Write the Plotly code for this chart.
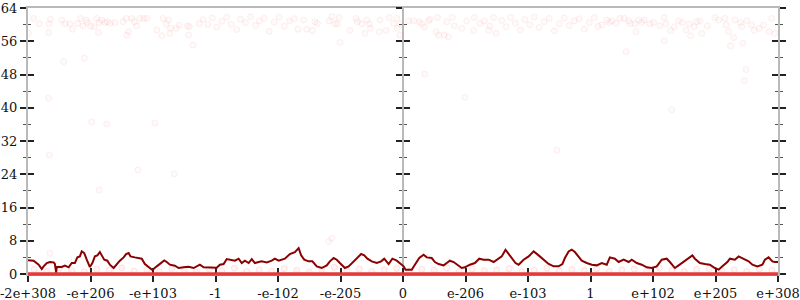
import plotly.graph_objects as go

# x axis: position along the ordered float range, one unit per labelled tick
tick_pos = [-6, -5, -4, -3, -2, -1, 0, 1, 2, 3, 4, 5, 6]
tick_text = ["-2e+308", "-e+206", "-e+103", "-1", "-e-102", "-e-205", "0",
             "e-206", "e-103", "1", "e+102", "e+205", "e+308"]
y_ticks = [0, 8, 16, 24, 32, 40, 48, 56, 64]

# moving-average line
avg_x = [-6.0, -5.91, -5.83, -5.78, -5.75, -5.70, -5.65, -5.59, -5.57, -5.55, -5.54, -5.46,
         -5.41, -5.35, -5.30, -5.25, -5.21, -5.17, -5.14, -5.10, -5.06, -5.01, -4.97, -4.93,
         -4.89, -4.85, -4.82, -4.78, -4.73, -4.69, -4.63, -4.58, -4.53, -4.47, -4.43, -4.39,
         -4.36, -4.29, -4.18, -4.13, -4.07, -4.01, -3.94, -3.89, -3.82, -3.78, -3.73, -3.65,
         -3.59, -3.51, -3.43, -3.35, -3.25, -3.19, -3.09, -2.98, -2.93, -2.87, -2.82, -2.77,
         -2.69, -2.63, -2.58, -2.53, -2.47, -2.42, -2.37, -2.31, -2.26, -2.18, -2.10, -2.05,
         -1.99, -1.89, -1.81, -1.73, -1.67, -1.63, -1.58, -1.51, -1.45, -1.38, -1.30, -1.22,
         -1.17, -1.11, -1.06, -1.01, -0.93, -0.87, -0.79, -0.74, -0.67, -0.62, -0.57, -0.50,
         -0.42, -0.35, -0.30, -0.23, -0.17, -0.10, -0.05, 0.01, 0.04, 0.14, 0.19, 0.26,
         0.33, 0.38, 0.46, 0.51, 0.57, 0.65, 0.70, 0.75, 0.81, 0.87, 0.94, 0.99,
         1.07, 1.15, 1.22, 1.29, 1.37, 1.45, 1.53, 1.58, 1.64, 1.69, 1.75, 1.80,
         1.85, 1.93, 2.01, 2.09, 2.17, 2.25, 2.33, 2.41, 2.49, 2.55, 2.59, 2.65,
         2.70, 2.75, 2.81, 2.86, 2.94, 3.02, 3.10, 3.18, 3.26, 3.31, 3.39, 3.45,
         3.53, 3.61, 3.66, 3.74, 3.82, 3.90, 3.98, 4.06, 4.14, 4.22, 4.27, 4.35,
         4.41, 4.49, 4.57, 4.63, 4.67, 4.75, 4.83, 4.91, 4.99, 5.05, 5.11, 5.19,
         5.23, 5.31, 5.37, 5.45, 5.53, 5.59, 5.67, 5.75, 5.79, 5.85, 5.91, 5.95, 6.0]
avg_y = [3.28, 3.2, 2.24, 1.2, 1.84, 2.64, 2.88, 2.8, 2.4, 0.4, 1.68, 1.68,
         2.0, 1.6, 2.64, 2.64, 4.0, 4.24, 5.44, 5.04, 3.44, 1.68, 2.64, 4.24,
         4.48, 5.28, 4.48, 3.44, 3.2, 2.24, 1.44, 2.4, 3.2, 4.0, 4.8, 5.04,
         4.24, 4.0, 3.68, 2.4, 1.6, 0.96, 1.84, 2.4, 3.28, 2.88, 2.24, 2.0,
         1.44, 1.6, 1.76, 1.44, 2.24, 1.6, 1.6, 1.52, 2.24, 2.4, 3.6, 3.44,
         3.2, 3.68, 2.64, 3.2, 2.64, 3.6, 2.64, 2.88, 3.04, 2.8, 3.2, 3.68,
         3.2, 3.68, 4.8, 5.28, 6.24, 4.48, 3.44, 3.04, 3.04, 1.84, 1.44, 2.08,
         3.04, 3.84, 3.44, 2.64, 1.44, 1.84, 3.04, 4.0, 4.8, 4.48, 3.68, 3.04,
         2.64, 3.04, 3.68, 2.4, 3.68, 3.2, 2.64, 1.84, 1.04, 1.04, 2.24, 3.84,
         4.64, 4.0, 3.84, 2.88, 2.4, 2.08, 2.64, 3.2, 2.88, 2.24, 1.44, 1.6,
         2.24, 2.64, 3.68, 3.44, 3.44, 2.88, 3.68, 4.24, 5.84, 4.8, 3.84, 2.64,
         2.24, 3.44, 4.24, 5.44, 4.48, 3.44, 2.4, 1.84, 1.84, 2.4, 3.84, 5.44,
         5.84, 5.28, 4.24, 3.2, 2.64, 2.24, 2.08, 2.64, 2.24, 4.0, 3.68, 2.88,
         3.44, 2.88, 3.44, 2.64, 2.24, 1.6, 1.44, 1.84, 3.44, 3.68, 2.88, 1.44,
         2.08, 2.88, 3.84, 4.48, 3.68, 2.64, 2.4, 2.24, 1.44, 1.04, 1.84, 2.88,
         3.68, 3.44, 4.24, 3.68, 3.04, 2.24, 1.84, 2.24, 3.44, 4.0, 3.04, 2.88, 2.88]

# individual samples (upper band and scattered)
pt_x = [-5.91, -5.82, -5.66, -5.64, -5.46, -5.41, -5.33, -5.29, -5.21, -5.16, -5.12, -5.07,
        -5.05, -5.0, -4.94, -4.90, -4.87, -4.86, -4.82, -4.77, -4.73, -4.69, -4.61, -4.48,
        -4.43, -4.42, -4.39, -4.34, -4.30, -4.26, -4.21, -4.15, -4.10, -3.94, -3.86, -3.84,
        -3.79, -3.75, -3.73, -3.72, -3.63, -3.58, -3.45, -3.42, -3.43, -3.36, -3.26, -5.43,
        -5.10, -5.67, -5.99, -5.67, -4.98, -4.74, -3.97, -5.66, -4.24, -3.66, -4.86,
        -3.2, -3.12, -3.05, -2.98, -2.9, -2.82, -2.75, -2.66, -2.6, -2.52, -2.44, -2.36,
        -2.3, -2.22, -2.14, -2.06, -1.98, -1.9, -1.82, -1.74, -1.68,
        -1.59, -1.54, -1.45, -1.41, -1.37, -1.18, -1.14, -1.09, -1.05, -1.02, -0.85, -0.75,
        -0.73, -0.66, -0.61, -0.58, -0.54, -0.52, -0.37, -0.38, -0.27, -0.22, -0.15, -0.10,
        -0.09, -0.05, -0.04, 0.09, 0.17, 0.26, 0.30, 0.34, 0.41, 0.43, 0.53, 0.55,
        0.57, 0.66, 0.73, 0.70, 0.79, 0.82, 0.94, 1.02, 1.13, 1.14, 1.23, 1.30,
        1.37, 1.39, 1.45, 1.49, -1.01, 0.35, 0.99,
        1.58, 1.65, 1.72, 1.8, 1.88, 1.95, 2.03, 2.1, 2.18, 2.26, 2.34, 2.42,
        2.5, 2.58, 2.66, 2.74, 2.82, 2.9, 2.98, 3.06, 3.12, 2.46, 4.3,
        3.18, 3.26, 3.30, 3.34, 3.41, 3.47, 3.54, 3.61, 3.64, 3.71, 3.73, 3.77,
        3.82, 3.86, 3.95, 4.01, 4.11, 4.18, 4.21, 4.28, 4.34, 4.41, 4.47, 4.53,
        4.58, 4.60, 4.66, 4.70, 4.75, 4.78, 4.87, 4.99, 5.05, 5.15, 5.17, 5.21,
        5.24, 5.29, 5.31, 5.40, 5.42, 5.44, 5.50, 5.58, 5.62, 5.70, 5.77, 5.86,
        5.90, 5.95, 3.57, 4.18, 5.49, 5.46, -5.65, -1.14, -1.19]
pt_y = [61.5, 60.2, 60.2, 61.3, 61.1, 60.2, 60.2, 58.9, 60.3, 61.5, 59.7, 61.1,
        60.5, 59.7, 59.5, 61.5, 58.1, 60.5, 61.1, 60.5, 60.7, 60.3, 60.5, 60.7,
        61.5, 57.5, 58.3, 61.5, 60.7, 59.7, 61.5, 61.5, 61.5, 58.7, 57.3, 61.5,
        60.2, 61.1, 57.9, 59.1, 59.1, 59.9, 59.7, 59.5, 57.5, 55.1, 60.3, 51.1,
        51.9, 58.1, 57.9, 42.3, 36.6, 36.1, 36.3, 28.6, 25.0, 24.1, 20.2,
        61.2, 60.0, 61.6, 59.4, 60.8, 61.8, 60.1, 58.8, 61.3, 60.5, 61.9, 59.8,
        60.9, 61.5, 58.4, 60.6, 61.8, 59.6, 60.9, 61.4, 58.9,
        61.1, 58.9, 58.6, 60.7, 60.3, 60.9, 61.9, 60.2, 60.2, 61.7, 58.6, 61.5,
        60.7, 60.2, 57.9, 61.1, 60.2, 59.1, 61.1, 58.3, 58.6, 61.7, 60.3, 61.5,
        59.1, 57.5, 60.2, 60.9, 60.9, 60.7, 60.2, 59.4, 60.9, 61.3, 58.3, 61.7,
        57.5, 57.5, 57.1, 60.7, 61.7, 59.7, 59.1, 60.9, 58.6, 61.7, 60.3, 60.9,
        58.6, 59.7, 61.7, 57.9, 55.7, 48.1, 42.5,
        61.0, 59.5, 61.7, 60.4, 58.7, 61.2, 60.0, 61.8, 59.3, 60.7, 61.5, 58.5,
        60.2, 61.6, 59.8, 60.9, 61.4, 58.9, 60.5, 61.7, 59.6, 29.8, 39.5,
        59.9, 61.1, 60.5, 60.9, 60.3, 61.5, 61.5, 60.9, 60.3, 60.2, 58.3, 61.1,
        60.5, 61.1, 60.2, 60.5, 59.7, 61.7, 60.2, 58.6, 59.5, 60.9, 60.5, 58.7,
        60.2, 57.3, 59.5, 60.7, 60.9, 57.9, 59.7, 61.7, 61.1, 61.5, 59.9, 58.3,
        54.9, 56.9, 61.1, 60.5, 59.5, 55.5, 60.9, 59.9, 58.6, 59.1, 59.9, 58.3,
        61.5, 57.9, 53.5, 56.1, 49.2, 46.5, 5.0, 8.6, 7.8]

# samples in the low band just above zero
low_x = [-5.9, -5.7, -5.5, -5.3, -5.1, -4.9, -4.7, -4.5, -4.3, -4.1, -3.9, -3.7,
         -3.5, -3.3, -3.1, -2.9, -2.7, -2.5, -2.3, -2.1, -1.9, -1.7, -1.5, -1.3,
         -1.1, -0.9, -0.7, -0.5, -0.3, -0.1, 0.1, 0.3, 0.5, 0.7, 0.9, 1.1,
         1.3, 1.5, 1.7, 1.9, 2.1, 2.3, 2.5, 2.7, 2.9, 3.1, 3.3, 3.5,
         3.7, 3.9, 4.1, 4.3, 4.5, 4.7, 4.9, 5.1, 5.3, 5.5, 5.7, 5.9]
low_y = [1.1, 0.6, 1.4, 0.8, 0.5, 1.2, 0.9, 1.5, 0.7, 1.0, 0.6, 1.3,
         0.9, 0.5, 1.2, 0.8, 1.4, 0.6, 1.0, 0.7, 1.3, 0.9, 0.5, 1.1,
         1.6, 0.8, 1.2, 0.6, 1.0, 1.4, 0.7, 1.1, 0.9, 1.5, 0.6, 1.2,
         0.8, 1.0, 1.3, 0.5, 0.9, 1.4, 0.7, 1.1, 0.8, 1.3, 0.6, 1.0,
         1.2, 0.7, 1.5, 0.9, 0.6, 1.1, 1.3, 0.8, 1.0, 0.6, 1.2, 0.9]

# zero-valued samples (form the solid band at 0), one bin per tick interval
zero_x = [-5.5, -4.5, -3.5, -2.5, -1.5, -0.5, 0.5, 1.5, 2.5, 3.5, 4.5, 5.5]
zero_y = [0, 0, 0, 0, 0, 0, 0, 0, 0, 0, 0, 0]

FONT = "DejaVu Serif"
GRAY = "#b9b9b9"
TICK = "#222222"

fig = go.Figure()
pt_marker = dict(size=6, color="rgba(255,90,90,0.03)",
                 line=dict(color="rgba(235,60,60,0.08)", width=1))
fig.add_trace(go.Scatter(x=pt_x, y=pt_y, mode="markers", marker=pt_marker,
                         hoverinfo="skip", showlegend=False))
fig.add_trace(go.Scatter(x=low_x, y=low_y, mode="markers",
                         marker=dict(size=6, color="rgba(255,90,90,0.06)",
                                     line=dict(color="rgba(235,60,60,0.12)", width=1)),
                         hoverinfo="skip", showlegend=False))
fig.add_trace(go.Scatter(x=zero_x, y=zero_y, mode="markers", cliponaxis=False,
                         marker=dict(symbol="line-ew", size=44.6,
                                     line=dict(color="#e43a3a", width=3.5)),
                         hoverinfo="skip", showlegend=False))
fig.add_trace(go.Scatter(x=avg_x, y=avg_y, mode="lines",
                         line=dict(color="#8b0000", width=2),
                         hoverinfo="skip", showlegend=False))

common_x = dict(range=[-6, 6], tickmode="array", tickvals=tick_pos, showgrid=False,
                zeroline=False, tickcolor=TICK, tickwidth=1.5, ticklen=6,
                layer="below traces", automargin=False)
common_y = dict(range=[0, 64], tickmode="array", tickvals=y_ticks, showgrid=False,
                zeroline=False, tickcolor=TICK, tickwidth=1.5, ticklen=6,
                layer="below traces", automargin=False)

def minor(kind):
    return dict(ticks=kind, ticklen=3, dtick=4, tick0=0, tickcolor="#555555", tickwidth=1)

fig.update_layout(
    width=800, height=300,
    margin=dict(l=28, r=22, t=8, b=26, pad=0, autoexpand=False),
    paper_bgcolor="white", plot_bgcolor="white",
    showlegend=False,
    xaxis=dict(**common_x, ticktext=tick_text, ticks="outside",
               ticklabeloverflow="allow",
               showline=True, linecolor=GRAY, linewidth=2, mirror=True,
               tickfont=dict(family=FONT, size=13, color="#111111")),
    xaxis2=dict(**common_x, overlaying="x", anchor="y", side="bottom",
                ticks="inside", showticklabels=False, showline=False),
    yaxis=dict(**common_y, ticks="outside", minor=minor("outside"),
               ticklabeloverflow="allow",
               showline=True, linecolor=GRAY, linewidth=2,
               tickfont=dict(family=FONT, size=13, color="#111111")),
    yaxis2=dict(**common_y, overlaying="y", anchor="x", side="left",
                ticks="inside", minor=minor("inside"), showticklabels=False),
    yaxis3=dict(**common_y, overlaying="y", anchor="x", side="right",
                ticks="outside", minor=minor("outside"), showticklabels=False,
                showline=True, linecolor=GRAY, linewidth=2),
    yaxis4=dict(**common_y, overlaying="y", anchor="x", side="right",
                ticks="inside", minor=minor("inside"), showticklabels=False),
    yaxis5=dict(**common_y, overlaying="y", anchor="free", position=0.5, side="left",
                ticks="outside", minor=minor("outside"), showticklabels=False,
                showline=True, linecolor=GRAY, linewidth=2),
    yaxis6=dict(**common_y, overlaying="y", anchor="free", position=0.5, side="left",
                ticks="inside", minor=minor("inside"), showticklabels=False),
)

# empty traces to activate the extra axes
fig.add_trace(go.Scatter(x=[None], y=[None], xaxis="x2", yaxis="y", showlegend=False))
for ax in ["y2", "y3", "y4", "y5", "y6"]:
    fig.add_trace(go.Scatter(x=[None], y=[None], xaxis="x", yaxis=ax, showlegend=False))

fig.write_html("out.html")
